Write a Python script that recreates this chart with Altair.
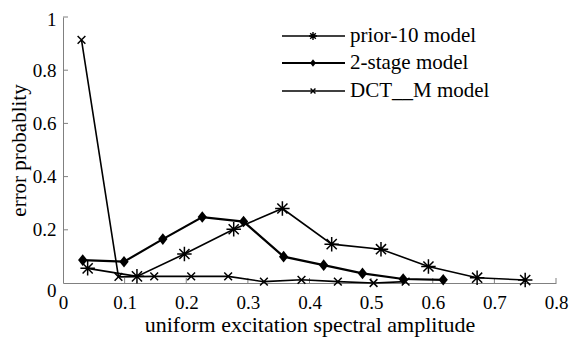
import altair as alt
import pandas as pd

# ---- data ----
prior_x = [0.04, 0.12, 0.197, 0.277, 0.356, 0.436, 0.516, 0.593, 0.672, 0.75]
prior_y = [0.055, 0.025, 0.109, 0.202, 0.28, 0.146, 0.127, 0.062, 0.02, 0.011]
stage_x = [0.032, 0.099, 0.162, 0.226, 0.293, 0.358, 0.423, 0.486, 0.552, 0.617]
stage_y = [0.086, 0.08, 0.165, 0.248, 0.231, 0.099, 0.067, 0.036, 0.015, 0.012]
dct_x = [0.03, 0.09, 0.148, 0.208, 0.268, 0.326, 0.387, 0.446, 0.504, 0.556]
dct_y = [0.914, 0.023, 0.025, 0.025, 0.025, 0.005, 0.012, 0.005, 0.0, 0.005]

series_names = ["prior-10 model", "2-stage model", "DCT__M model"]
x_ticks = [0.0, 0.1, 0.2, 0.3, 0.4, 0.5, 0.6, 0.7, 0.8]
y_ticks = [0.0, 0.2, 0.4, 0.6, 0.8, 1.0]

W, H = 493, 266
FONT = "Liberation Serif"

ASTER = "M-1,0L1,0M0,-1L0,1M-0.7,-0.7L0.7,0.7M-0.7,0.7L0.7,-0.7"
DIAM = "M0,-1L0.8,0L0,1L-0.8,0Z"
XMARK = "M-1,-1L1,1M-1,1L1,-1"

xs = alt.Scale(domain=[0, 0.8], nice=False, zero=False)
ys = alt.Scale(domain=[0, 1], nice=False, zero=False)

xaxis = alt.Axis(values=x_ticks, format="~g", title="uniform excitation spectral amplitude",
                 labelPadding=10, titlePadding=2, labelFlush=False, labelOverlap=False,
                 labelFontSize=19, titleFontSize=22)
yaxis = alt.Axis(values=y_ticks, format="~g", title="error probablity",
                 labelPadding=7, titlePadding=3, labelFlush=False, labelOverlap=False,
                 labelFontSize=19, titleFontSize=21,
                 labelOffset={"condition": [{"test": "datum.value == 0", "value": 7},
                                            {"test": "datum.value == 1", "value": 2}],
                              "value": 0})


def series(xv, yv, shape, size, filled, sw):
    df = pd.DataFrame({"x": xv, "y": yv})
    base = alt.Chart(df).encode(
        x=alt.X("x:Q", scale=xs, axis=xaxis),
        y=alt.Y("y:Q", scale=ys, axis=yaxis),
    )
    line = base.mark_line(color="black", strokeWidth=sw)
    pts = base.mark_point(shape=shape, size=size, filled=filled, color="black",
                          strokeWidth=1.5, opacity=1)
    return line + pts


prior = series(prior_x, prior_y, ASTER, 210, False, 1.6)
stage = series(stage_x, stage_y, DIAM, 135, True, 2.2)
dct = series(dct_x, dct_y, XMARK, 60, False, 1.6)

# inward ticks
xt = alt.Chart(pd.DataFrame({"t": x_ticks[1:]})).mark_rule(color="#808080", strokeWidth=1).encode(
    x=alt.X("t:Q", scale=xs), y=alt.value(H), y2=alt.value(H - 5))
yt = alt.Chart(pd.DataFrame({"t": y_ticks[1:]})).mark_rule(color="#808080", strokeWidth=1).encode(
    y=alt.Y("t:Q", scale=ys), x=alt.value(0), x2=alt.value(5))

# legend
leg_layers = []
leg_y = [19, 46, 74]
leg_shapes = [(ASTER, 64, False, 1.6), (DIAM, 55, True, 2.2), (XMARK, 24, False, 1.6)]
for name, ly, (shp, sz, fil, sw) in zip(series_names, leg_y, leg_shapes):
    d = alt.Chart(pd.DataFrame({"name": [name]}))
    leg_layers.append(d.mark_rule(color="black", strokeWidth=sw).encode(
        x=alt.value(219), x2=alt.value(282), y=alt.value(ly)))
    leg_layers.append(d.mark_point(shape=shp, size=sz, filled=fil, color="black",
                                   strokeWidth=1.4, opacity=1).encode(
        x=alt.value(250), y=alt.value(ly)))
    leg_layers.append(d.mark_text(align="left", baseline="middle", font=FONT, fontSize=21,
                                  color="black").encode(
        x=alt.value(287), y=alt.value(ly), text="name:N"))

chart = alt.layer(xt, yt, dct, prior, stage, *leg_layers).properties(
    width=W, height=H,
    background="white",
    autosize=alt.AutoSizeParams(type="none"),
    padding={"left": 55, "top": 9, "right": 13, "bottom": 58},
).configure_view(stroke=None).configure_axis(
    domainColor="#808080", domainWidth=1, tickSize=0, grid=False,
    labelFont=FONT, labelColor="black",
    titleFont=FONT, titleFontWeight="normal", titleColor="black",
)

chart.save("out.html", embed_options={"renderer": "svg", "actions": False})
